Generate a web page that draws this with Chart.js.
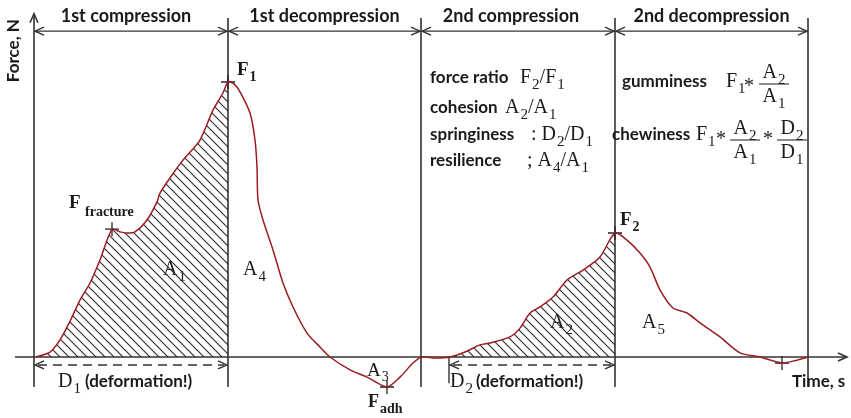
<!DOCTYPE html>
<html>
<head>
<meta charset="utf-8">
<script src="https://cdn.jsdelivr.net/npm/chart.js@4.4.1/dist/chart.umd.min.js"></script>
<style>
  body { margin: 0; background: #fff; }
  #wrap { width: 851px; height: 418px; }
</style>
</head>
<body>
<div id="wrap"><canvas id="tpa" width="851" height="418"></canvas></div>
<script>
// texture profile curve (time in s, force in N, force F1 = 100)
var times = [0.2, 1.6, 2.6, 3.6, 4.6, 5.6, 6.6, 7.8, 8.6, 9.3, 10.1, 11.3, 12.3, 12.6, 13.8, 14.9, 16.6, 17.9, 18.9, 19.4,
  20.0, 20.6, 21.6, 22.1, 22.3, 22.4, 22.9, 23.9, 24.9, 25.9, 27.3, 28.6, 29.6, 31.6, 33.3, 35.3, 36.6, 37.9, 38.8,
  40.1, 41.6, 43.1, 44.6, 45.6, 47.6, 48.6, 49.6, 50.6, 51.9, 53.3, 54.9, 56.6, 58.1,
  59.3, 60.6, 61.6, 62.6, 63.9, 65.3, 66.6, 68.6, 70.6, 72.6, 73.6, 74.8, 75.9, 77.4];
var forces = [0, 1.8, 6.2, 13, 20.7, 26.9, 35.3, 46.5, 45.5, 45.1, 45.5, 49.8, 56.4, 59.6, 66.2, 71.6, 78.9, 89.8, 96, 100,
  99.3, 96.4, 88.7, 78.9, 69.1, 57.1, 49.8, 38.9, 26.9, 18.2, 8.7, 3.6, 0, -4.7, -7.3, -10.9, -7.3, -2.2, 0,
  -0.4, 0, 1.8, 4.4, 5.1, 7.3, 10.5, 16, 18.2, 21.8, 28, 31.6, 36.4, 45.1,
  42.5, 37.8, 32.7, 24.4, 17.8, 16, 12.4, 7.3, 1.5, 0, -1.1, -2.2, -1.5, 0];

var phaseEdges = [0, 19.4, 38.7, 58.1, 77.4];
var phaseLabels = ['1st compression', '1st decompression', '2nd compression', '2nd decompression'];

var hatchA1 = [0.2, 19.4];
var hatchA2 = [41.6, 58.1];

var markerTimes = [7.8, 19.4, 35.3, 58.1, 74.8];
var markerForces = [46.5, 100, -10.9, 45.1, -2.2];

var ratioNames = ['force ratio', 'cohesion', 'springiness', 'resilience'];
var ratioFormulas = ['F_2/F_1', 'A_2/A_1', ': D_2/D_1', '; A_4/A_1'];

var curve = times.map(function(t, i) { return {x: t, y: forces[i]}; });
function part(r) {
  return curve.filter(function(p) { return p.x >= r[0] && p.x <= r[1]; });
}
var markers = markerTimes.map(function(t, i) { return {x: t, y: markerForces[i]}; });

function hatch() {
  var c = document.createElement('canvas');
  c.width = 9; c.height = 9;
  var g = c.getContext('2d');
  g.strokeStyle = '#2a2a2a';
  g.lineWidth = 1.1;
  g.beginPath();
  g.moveTo(-1, -1); g.lineTo(10, 10);
  g.moveTo(-1, 8); g.lineTo(1, 10);
  g.moveTo(8, -1); g.lineTo(10, 1);
  g.stroke();
  return g.createPattern(c, 'repeat');
}

var SERIF = '"Liberation Serif", "DejaVu Serif", serif';
var SANS = 'Lato, "Liberation Sans", sans-serif';

// 'F_2' -> F with subscript 2, 'F_{adh}' -> subscript adh
function tokens(s) {
  var out = [], i = 0;
  while (i < s.length) {
    if (s[i] === '_') {
      if (s[i + 1] === '{') {
        var j = s.indexOf('}', i);
        out.push({t: s.slice(i + 2, j), sub: true});
        i = j + 1;
      } else {
        out.push({t: s[i + 1], sub: true});
        i += 2;
      }
    } else {
      var k = i;
      while (k < s.length && s[k] !== '_') k++;
      out.push({t: s.slice(i, k), sub: false});
      i = k;
    }
  }
  return out;
}

function rich(ctx, s, x, y, size, opt) {
  opt = opt || {};
  var w = opt.bold ? 'bold ' : '';
  var subSize = Math.round(size * (opt.subScale || 0.75));
  var tk = tokens(s);
  var widths = tk.map(function(p) {
    ctx.font = w + (p.sub ? subSize : size) + 'px ' + SERIF;
    return ctx.measureText(p.t).width + (p.sub ? 1 : 0);
  });
  var total = widths.reduce(function(a, b) { return a + b; }, 0);
  var cx = opt.center ? x - total / 2 : x;
  ctx.textAlign = 'left';
  ctx.textBaseline = 'alphabetic';
  tk.forEach(function(p, i) {
    ctx.font = w + (p.sub ? subSize : size) + 'px ' + SERIF;
    ctx.fillText(p.t, cx + (p.sub ? 1 : 0), p.sub ? y + size * 0.3 : y);
    cx += widths[i];
  });
  return total;
}

function frac(ctx, num, den, cx, yBar, size) {
  ctx.beginPath();
  ctx.moveTo(cx - 15, yBar);
  ctx.lineTo(cx + 15, yBar);
  ctx.lineWidth = 1;
  ctx.stroke();
  rich(ctx, num, cx, yBar - 6, size, {center: true});
  rich(ctx, den, cx, yBar + 18, size, {center: true});
}

function star(ctx, x, y, size) {
  ctx.font = size + 'px ' + SERIF;
  ctx.textAlign = 'center';
  ctx.fillText('*', x, y + 5);
  ctx.textAlign = 'left';
}

function head(ctx, x, y, dir, vertical) {
  ctx.beginPath();
  if (vertical) {
    ctx.moveTo(x - 4, y + 9); ctx.lineTo(x, y); ctx.lineTo(x + 4, y + 9);
  } else {
    ctx.moveTo(x - dir * 9, y - 4); ctx.lineTo(x, y); ctx.lineTo(x - dir * 9, y + 4);
  }
  ctx.stroke();
}

function line(ctx, x1, y1, x2, y2) {
  ctx.beginPath();
  ctx.moveTo(x1, y1);
  ctx.lineTo(x2, y2);
  ctx.stroke();
}

var annotations = {
  id: 'annotations',
  beforeDatasetsDraw: function(chart) {
    var ctx = chart.ctx;
    var X = function(v) { return chart.scales.x.getPixelForValue(v); };
    var Y = function(v) { return chart.scales.y.getPixelForValue(v); };
    ctx.save();
    ctx.strokeStyle = '#333';
    ctx.fillStyle = '#1a1a1a';
    ctx.lineWidth = 1.6;

    // axes
    line(ctx, X(0), Y(124.8), X(0), Y(-10.9));
    head(ctx, X(0), Y(124.8), 0, true);
    line(ctx, X(-1.9), Y(0), X(81.3), Y(0));
    head(ctx, X(81.3), Y(0), 1);

    // phase boundaries and top arrows
    phaseEdges.forEach(function(t, i) {
      if (i > 0) line(ctx, X(t), Y(123.3), X(t), Y(-10.9));
    });
    ctx.lineWidth = 1.4;
    for (var i = 0; i < phaseLabels.length; i++) {
      var a = X(phaseEdges[i]) + 1, b = X(phaseEdges[i + 1]) - 1, ya = Y(118.5);
      line(ctx, a, ya, b, ya);
      head(ctx, a, ya, -1);
      head(ctx, b, ya, 1);
      ctx.font = 'bold 18px ' + SANS;
      ctx.textAlign = 'center';
      ctx.textBaseline = 'middle';
      ctx.fillText(phaseLabels[i], (a + b) / 2 - (i === 0 ? 5 : i === 2 ? 7 : 0), Y(124));
    }

    // deformation dashed arrows
    [[hatchA1[0] - 0.2, hatchA1[1]], [hatchA2[0] - 0.1, hatchA2[1]]].forEach(function(d) {
      var a = X(d[0]) + 1, b = X(d[1]) - 1, yd = Y(-2.9);
      ctx.setLineDash([9, 6]);
      line(ctx, a + 3, yd, b - 3, yd);
      ctx.setLineDash([]);
      head(ctx, a, yd, -1);
      head(ctx, b, yd, 1);
    });
    line(ctx, X(hatchA2[0] - 0.1), Y(0), X(hatchA2[0] - 0.1), Y(-9.5));

    ctx.fillStyle = '#1a1a1a';
    ctx.textAlign = 'left';
    ctx.textBaseline = 'alphabetic';
    var dw = rich(ctx, 'D_1', X(2.4), Y(-10.9), 20);
    ctx.font = 'bold 17px ' + SANS;
    ctx.fillText('(deformation!)', X(2.4) + dw + 4, Y(-10.9));
    dw = rich(ctx, 'D_2', X(41.6), Y(-10.9), 20);
    ctx.font = 'bold 17px ' + SANS;
    ctx.fillText('(deformation!)', X(41.6) + dw + 3, Y(-10.9));

    // axis titles
    ctx.font = 'bold 17px ' + SANS;
    ctx.fillText('Time, s', X(75.8), Y(-10.9));
    ctx.save();
    ctx.translate(X(0) - 20, Y(111.4));
    ctx.rotate(-Math.PI / 2);
    ctx.textAlign = 'center';
    ctx.textBaseline = 'middle';
    ctx.fillText('Force, N', 0, 0);
    ctx.restore();

    // point and area labels
    rich(ctx, 'F_1', X(20.3), Y(102.5), 19, {bold: true});
    rich(ctx, 'F', X(3.5), Y(54.2), 19, {bold: true});
    rich(ctx, 'fracture', X(5.1), Y(51.3), 14, {bold: true});
    rich(ctx, 'A_1', X(12.9), Y(29.8), 20);
    rich(ctx, 'A_4', X(20.9), Y(29.8), 20);
    rich(ctx, 'A_3', X(33.3), Y(-6.8), 19);
    rich(ctx, 'F_{adh}', X(33.4), Y(-18.3), 18, {bold: true});
    rich(ctx, 'F_2', X(58.6), Y(48), 19, {bold: true});
    rich(ctx, 'A_2', X(51.6), Y(10.5), 20);
    rich(ctx, 'A_5', X(60.8), Y(10.5), 20);

    // texture parameters
    var rowF = [99.6, 88.7, 78.9, 69.5];
    var mathX = [520, 505, 531, 527];
    ratioNames.forEach(function(n, i) {
      ctx.font = 'bold 17px ' + SANS;
      ctx.textAlign = 'left';
      ctx.fillText(n, X(39.6), Y(rowF[i]));
      rich(ctx, ratioFormulas[i], mathX[i], Y(rowF[i]), 20);
    });

    ctx.strokeStyle = '#1a1a1a';
    ctx.font = 'bold 17px ' + SANS;
    ctx.fillText('gumminess', X(58.8), Y(98.2));
    rich(ctx, 'F_1', 726, Y(98.2), 20);
    star(ctx, 749, Y(98.2), 20);
    frac(ctx, 'A_2', 'A_1', 774, 84, 20);

    ctx.font = 'bold 17px ' + SANS;
    ctx.fillText('chewiness', X(57.8), Y(78.9));
    rich(ctx, 'F_1', 696, Y(78.9), 20);
    star(ctx, 721, Y(78.9), 20);
    frac(ctx, 'A_2', 'A_1', 745, 140, 20);
    star(ctx, 768, Y(78.9), 20);
    frac(ctx, 'D_2', 'D_1', 792, 140, 20);

    ctx.restore();
  }
};

new Chart(document.getElementById('tpa'), {
  type: 'line',
  data: {
    datasets: [
      {
        label: 'force',
        data: curve,
        borderColor: '#9b1b20',
        borderWidth: 1.5,
        pointRadius: 0,
        tension: 0.25,
        fill: false,
        order: 0
      },
      {
        label: 'A1',
        data: part(hatchA1),
        borderWidth: 0,
        pointRadius: 0,
        tension: 0.25,
        fill: 'origin',
        backgroundColor: hatch(),
        order: 3
      },
      {
        label: 'A2',
        data: part(hatchA2),
        borderWidth: 0,
        pointRadius: 0,
        tension: 0.25,
        fill: 'origin',
        backgroundColor: hatch(),
        order: 3
      },
      {
        label: 'points',
        type: 'scatter',
        data: markers,
        pointStyle: 'cross',
        pointRadius: 7,
        borderColor: '#222',
        borderWidth: 1.3,
        showLine: false,
        order: 1
      }
    ]
  },
  options: {
    responsive: false,
    animation: false,
    layout: { autoPadding: false, padding: { left: 34, right: 3, top: 10.5, bottom: 22.5 } },
    scales: {
      x: { type: 'linear', min: 0, max: 81.4, display: false },
      y: { min: -14, max: 126, display: false }
    },
    plugins: { legend: { display: false }, tooltip: { enabled: false } }
  },
  plugins: [annotations]
});
</script>
</body>
</html>
